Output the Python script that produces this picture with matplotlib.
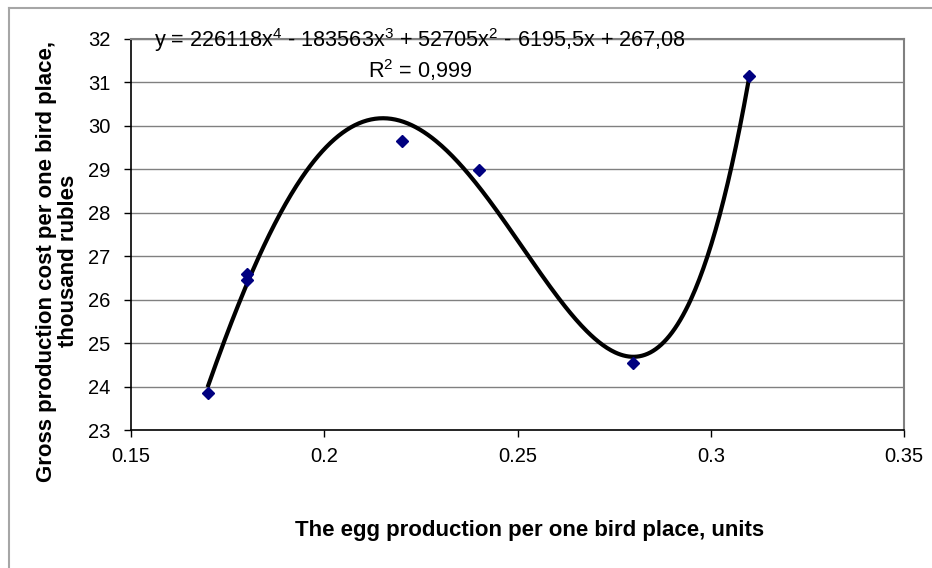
import numpy as np
import matplotlib.pyplot as plt
from matplotlib.lines import Line2D

plt.rcParams['font.family'] = ['Liberation Sans', 'DejaVu Sans']
plt.rcParams['mathtext.fontset'] = 'custom'
plt.rcParams['mathtext.rm'] = 'Liberation Sans'

# observed points
egg_prod = [0.17, 0.18, 0.18, 0.22, 0.24, 0.28, 0.31]
cost = [23.85, 26.58, 26.45, 29.65, 28.98, 24.55, 31.15]

# trendline coefficients as printed on the chart (highest power first)
trend_coef = [226118, -183563, 52705, -6195.5, 267.08]
eq_text = "y = 226118x$\\mathrm{^4}$ - 183563x$\\mathrm{^3}$ + 52705x$\\mathrm{^2}$ - 6195,5x + 267,08"
r2_text = "R$\\mathrm{^2}$ = 0,999"

xticks = [0.15, 0.2, 0.25, 0.3, 0.35]
xtick_labels = ["0.15", "0.2", "0.25", "0.3", "0.35"]
yticks = list(range(23, 33))

fig = plt.figure(figsize=(9.32, 5.68), dpi=100)
ax = fig.add_axes([131/932, 1 - 430/568, 773/932, 391/568])

# outer chart border (left and top only visible)
fig.add_artist(Line2D([9/932, 9/932], [0, 1 - 8/568], color='#a6a6a6', lw=1.5, transform=fig.transFigure))
fig.add_artist(Line2D([9/932, 1], [1 - 8/568, 1 - 8/568], color='#a6a6a6', lw=1.5, transform=fig.transFigure))

for yv in yticks[1:]:
    ax.axhline(yv, color='#808080', lw=1, zorder=1)

xs = np.linspace(min(egg_prod), max(egg_prod), 400)
ax.plot(xs, np.polyval(trend_coef, xs), color='black', lw=3, zorder=2)
ax.plot(egg_prod, cost, linestyle='none', marker='D', markersize=6,
        color='#000080', zorder=3)

ax.set_xlim(0.15, 0.35)
ax.set_ylim(23, 32)
ax.set_xticks(xticks)
ax.set_xticklabels(xtick_labels)
ax.set_yticks(yticks)
ax.tick_params(axis='both', direction='out', length=5, width=1, labelsize=14.5, color='black')
ax.tick_params(axis='x', pad=7)
ax.tick_params(axis='y', pad=10)

for side in ['left', 'bottom']:
    ax.spines[side].set_color('black')
    ax.spines[side].set_linewidth(1.2)
for side in ['top', 'right']:
    ax.spines[side].set_color('#808080')
    ax.spines[side].set_linewidth(1.5)

ax.set_xlabel("The egg production per one bird place, units", fontsize=16,
              fontweight='bold', va='center')
ax.xaxis.set_label_coords(0.516, -0.256)
ax.set_ylabel("Gross production cost per one bird place,\nthousand rubles",
              fontsize=16, fontweight='bold', va='center', linespacing=1.05)
ax.yaxis.set_label_coords(-0.095, 0.432)

fig.text(420/932, 1 - 40/568, eq_text, fontsize=15.6, ha='center', va='center')
fig.text(420/932, 1 - 70/568, r2_text, fontsize=15.6, ha='center', va='center')

fig.savefig("out.png", dpi=100)
